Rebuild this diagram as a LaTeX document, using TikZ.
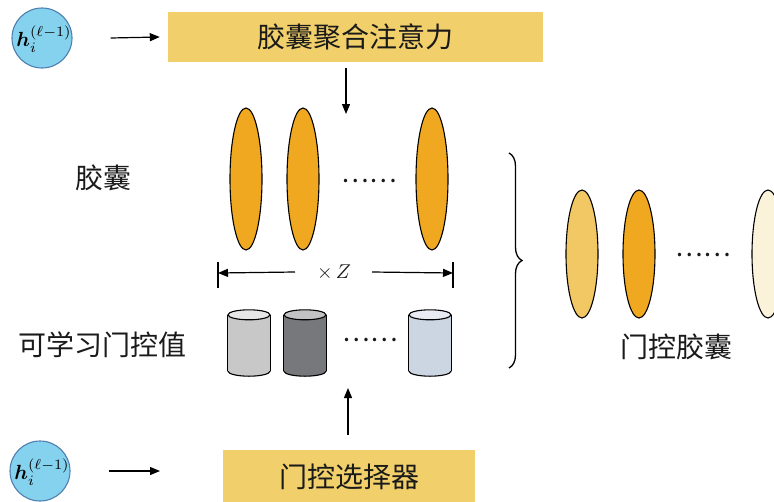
\documentclass[tikz,border=0pt]{standalone}
\usepackage{amsmath,bm}
\usepackage{fontspec}
\newfontfamily\cjk{Noto Sans CJK SC}
\usetikzlibrary{arrows.meta,shapes.geometric,decorations.pathreplacing}
\definecolor{boxy}{HTML}{F1CF6B}
\definecolor{capor}{HTML}{EFA820}
\definecolor{caplt}{HTML}{F2C864}
\definecolor{cappl}{HTML}{FBF2DA}
\definecolor{hblue}{HTML}{85D2EE}
\definecolor{hedge}{HTML}{4F7FB0}
\definecolor{cyA}{HTML}{C8C8C8}
\definecolor{cyB}{HTML}{77787C}
\definecolor{cyC}{HTML}{CCD5E2}
\definecolor{txt}{HTML}{1A1A1A}
\tikzset{
  arr/.style={line width=1.2pt,-{Triangle[length=10pt,width=8pt]}},
  hcirc/.style={circle,fill=hblue,draw=hedge,line width=1.1pt,minimum size=60pt,inner sep=0pt},
  ybox/.style={fill=boxy,inner sep=0pt,text=txt,font=\cjk\fontsize{28}{32}\selectfont},
  capsule/.style={ellipse,draw=black,line width=1.1pt,minimum width=32pt,inner sep=0pt},
  lbl/.style={text=txt,font=\cjk\fontsize{28}{32}\selectfont},
  dotsl/.style={text=txt,font=\cjk\fontsize{26}{30}\selectfont},
  cylbox/.style={minimum width=42pt,minimum height=56pt,inner sep=0pt},
}
\newcommand{\mycyl}[3]{%
  \node[cylbox] (#1) at (#2,343) {};
  \filldraw[fill=#3,draw=black,line width=1.1pt] (#1.south) ellipse[x radius=21,y radius=5];
  \fill[#3] (#1.north west) rectangle (#1.south east);
  \draw[line width=1.1pt] (#1.north west) -- (#1.south west) (#1.north east) -- (#1.south east);
  \filldraw[fill=#3!45!white,draw=black,line width=1.1pt] (#1.north) ellipse[x radius=21,y radius=5];
}
\newcommand{\hvec}{\scalebox{2.05}{$\bm{h}_i^{(\ell-1)}$}}
\begin{document}
\begin{tikzpicture}[x=1pt,y=-1pt]
\useasboundingbox (0,0) rectangle (774,501);
% inputs
\node[hcirc] (h1) at (42,38) {};
\node[hcirc] (h2) at (40,471) {};
\node (m1) at (44,39) {\hvec};
\node (m2) at (42,472) {\hvec};
% boxes
\node[ybox,minimum width=375pt,minimum height=50pt] (agg) at (355.5,37) {胶囊聚合注意力};
\node[ybox,minimum width=252pt,minimum height=54pt] (gsel) at (349,477) {门控选择器};
\coordinate (a2) at (160,471);
\draw[arr] ([xshift=38pt]h1.east) -- ([xshift=-8pt]agg.west);
\draw[arr] ([xshift=38pt]h2.east) -- (a2);
% capsules
\node[capsule,fill=capor,minimum height=142pt] (e1) at (246,179) {};
\node[capsule,fill=capor,minimum height=142pt] (e2) at (303,179) {};
\node[capsule,fill=capor,minimum height=142pt] (e3) at (432,179) {};
\node[dotsl] (d1) at (369,181) {……};
\node[lbl] (lcap) at (103,178) {胶囊};
\coordinate (downend) at (346,114);
\draw[arr] (agg.south -| downend) ++(0,6) -- (downend);
% dimension
\node[text=txt] (xz) at (334,272) {\scalebox{2}{$\times\,Z$}};
\coordinate (lb) at (218,273);
\coordinate (rb) at (453,273);
\draw[line width=1.2pt] ([yshift=-15pt]lb) -- ([yshift=11pt]lb);
\draw[line width=1.2pt] ([yshift=-15pt]rb) -- ([yshift=11pt]rb);
\draw[arr] ([xshift=-39pt]xz.center) -- (lb);
\draw[arr] ([xshift=38pt]xz.center) -- (rb);
% gates
\mycyl{c1}{249}{cyA}
\mycyl{c2}{305}{cyB}
\mycyl{c3}{430}{cyC}
\node[dotsl] (d2) at (370,340) {……};
\node[lbl] (lgate) at (103,345) {可学习门控值};
\coordinate (upend) at (348,388);
\draw[arr] (gsel.north -| upend) ++(0,-15) -- (upend);
% brace
\coordinate (bt) at (509,153);
\coordinate (bb) at (509,368);
\draw[line width=1.3pt,decorate,decoration={brace,amplitude=13pt}] (bt) -- (bb);
% gated capsules
\node[capsule,fill=caplt,minimum height=128pt] (g1) at (582,254) {};
\node[capsule,fill=capor,minimum height=128pt] (g2) at (639,254) {};
\node[capsule,fill=cappl,minimum height=128pt] (g3) at (768,254) {};
\node[dotsl] (d3) at (703,255) {……};
\node[lbl] (lgc) at (676,347) {门控胶囊};
\end{tikzpicture}
\end{document}
